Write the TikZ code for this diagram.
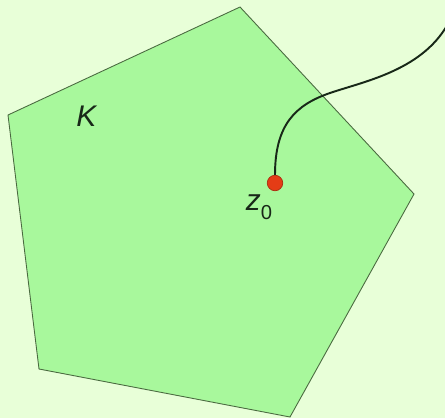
\documentclass[tikz,border=0pt]{standalone}
\usepackage{fontspec}
\setmainfont{Liberation Sans}
\usetikzlibrary{positioning}
\definecolor{kbBack}{HTML}{E8FFD8}
\definecolor{kbFill}{HTML}{A8F89C}
\definecolor{kbEdge}{HTML}{4A6A40}
\definecolor{kbRed}{HTML}{E43C16}
\definecolor{kbInk}{HTML}{182818}
\tikzset{
  kbSet/.style={draw=kbEdge,fill=kbFill,line width=0.5pt,line join=miter},
  kbPath/.style={draw=kbInk,line width=1.1pt},
  kbDot/.style={circle,draw=kbRed!75!black,fill=kbRed,line width=0.4pt,
    minimum size=0.31cm,inner sep=0pt},
  kbLabel/.style={font=\fontsize{17}{20}\selectfont,text=kbInk,inner sep=0pt}
}
\begin{document}
\begin{tikzpicture}[x=1cm,y=1cm]
\fill[kbBack,use as bounding box] (0,0) rectangle (8.9,8.36);
\coordinate (vA) at (4.80,8.22);
\coordinate (vB) at (8.28,4.48);
\coordinate (vC) at (5.80,0.02);
\coordinate (vD) at (0.78,0.98);
\coordinate (vE) at (0.16,6.06);
\path[kbSet] (vA) -- (vB) -- (vC) -- (vD) -- (vE) -- cycle;
\node[kbLabel] (setK) at (1.74,6.04) {\textit{K}};
\node[kbDot] (zz) at (5.50,4.70) {};
\node[kbLabel] (zlab) at (5.18,4.22)
  {\textit{z}\raisebox{-0.55ex}{\fontsize{11.5}{12}\selectfont 0}};
\coordinate (out) at (9.00,7.96);
\draw[kbPath] (zz.north) .. controls (5.50,5.86) and (5.90,6.26) .. (6.60,6.50)
  .. controls (7.30,6.74) and (8.50,6.96) .. (out);
\end{tikzpicture}
\end{document}
